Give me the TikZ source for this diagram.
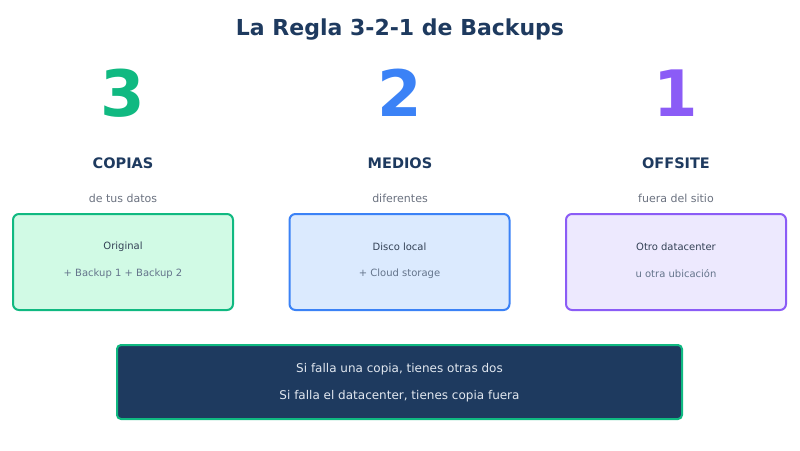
\documentclass[tikz,border=0pt]{standalone}
\usepackage{fontspec}
\setmainfont{DejaVu Sans}
\definecolor{navy}{HTML}{1E3A5F}
\definecolor{greenc}{HTML}{10B981}
\definecolor{greenf}{HTML}{D1FAE5}
\definecolor{bluec}{HTML}{3B82F6}
\definecolor{bluef}{HTML}{DBEAFE}
\definecolor{purplec}{HTML}{8B5CF6}
\definecolor{purplef}{HTML}{EDE9FE}
\definecolor{subgray}{HTML}{6B7280}
\definecolor{darktext}{HTML}{334155}
\definecolor{softgray}{HTML}{64748B}
\definecolor{lighttext}{HTML}{E2E8F0}
\tikzset{
  bignum/.style={font=\fontsize{64}{64}\selectfont\bfseries},
  head/.style={font=\fontsize{14.5}{14.5}\selectfont\bfseries,text=navy},
  sub/.style={font=\fontsize{11}{11}\selectfont,text=subgray},
  card/.style={draw=#1c,fill=#1f,line width=2pt,rounded corners=6pt,
    minimum width=220pt,minimum height=96pt},
  lineone/.style={font=\fontsize{10}{10}\selectfont,text=darktext},
  linetwo/.style={font=\fontsize{10}{10}\selectfont,text=softgray},
  note/.style={font=\fontsize{12}{12}\selectfont,text=lighttext}
}
\begin{document}
\begin{tikzpicture}[x=1pt,y=-1pt]
  \useasboundingbox[fill=white] (0,0) rectangle (800,450);
  \node[font=\fontsize{22}{22}\selectfont\bfseries,text=navy] (title) at (400,30) {La Regla 3-2-1 de Backups};
  % three columns
  \node[bignum,text=greenc] (num3) at (123,93) {3};
  \node[bignum,text=bluec] (num2) at (400,93) {2};
  \node[bignum,text=purplec] (num1) at (676,93) {1};
  \node[head] (copias) at (123,163) {COPIAS};
  \node[head] (medios) at (400,163) {MEDIOS};
  \node[head] (offsite) at (676,163) {OFFSITE};
  \node[sub] (datos) at (123,198) {de tus datos};
  \node[sub] (diferentes) at (400,198) {diferentes};
  \node[sub] (fuera) at (676,198) {fuera del sitio};
  \node[card=green] (boxcopias) at (123,262) {};
  \node[card=blue] (boxmedios) at (399.5,262) {};
  \node[card=purple] (boxoffsite) at (676,262) {};
  \node[lineone] at (123,246.5) {Original};
  \node[linetwo] at (123,273.5) {+ Backup 1 + Backup 2};
  \node[lineone] at (399.5,246.5) {Disco local};
  \node[linetwo] at (399.5,273.5) {+ Cloud storage};
  \node[lineone] at (676,246.5) {Otro datacenter};
  \node[linetwo] at (676,273.5) {u otra ubicación};
  % summary
  \node[draw=greenc,fill=navy,line width=2pt,rounded corners=4pt,
    minimum width=565pt,minimum height=74pt] (summary) at (399.5,382) {};
  \node[note] at (399.5,369) {Si falla una copia, tienes otras dos};
  \node[note] at (399.5,396) {Si falla el datacenter, tienes copia fuera};
\end{tikzpicture}
\end{document}
